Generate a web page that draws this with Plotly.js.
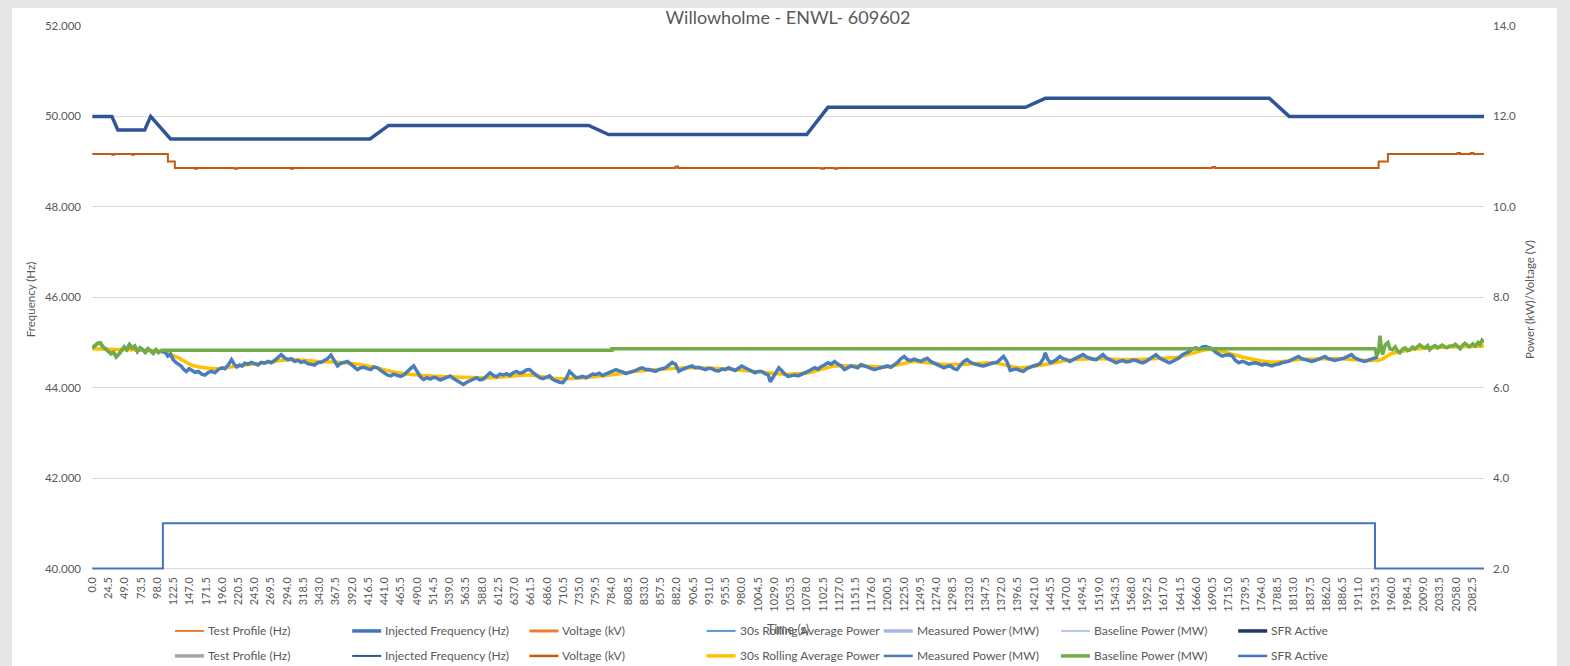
<!DOCTYPE html>
<html>
<head>
<meta charset="utf-8">
<script src="https://cdn.plot.ly/plotly-3.0.1.min.js"></script>
<style>
  html, body { margin: 0; padding: 0; background: #e7e6e6; }
  #frame { position: absolute; left: 12px; top: 8px; width: 1545px; height: 658px; background: #ffffff; }
  #chart { position: absolute; left: 0; top: 0; width: 1570px; height: 666px; }
</style>
</head>
<body>
<div id="frame"></div>
<div id="chart"></div>
<script>
// ---------------- DATA ----------------
const chartTitle = 'Willowholme - ENWL- 609602';

// Injected frequency (Hz), left axis
const freqTime = [0, 29.5, 38.5, 79, 88, 118, 419, 447, 749, 779, 1078, 1110, 1408, 1438, 1776, 1806, 2100];
const injectedFreq = [50.0, 50.0, 49.7, 49.7, 50.0, 49.5, 49.5, 49.8, 49.8, 49.6, 49.6, 50.2, 50.2, 50.4, 50.4, 50.0, 50.0];

// Voltage (kV), right axis (step)
const voltTime = [0, 30, 33, 60, 63, 114, 124.5, 155, 158, 215, 219, 300, 303, 880, 884, 1100, 1104, 1120, 1124, 1690, 1694, 1941, 1955, 2060, 2064, 2080, 2084, 2100];
const voltage = [11.17, 11.15, 11.17, 11.15, 11.17, 11.0, 10.86, 10.84, 10.86, 10.84, 10.86, 10.84, 10.86, 10.89, 10.86, 10.84, 10.86, 10.84, 10.86, 10.88, 10.86, 11.0, 11.17, 11.19, 11.17, 11.19, 11.17, 11.17];

// Measured power (MW), right axis
const powerTime = [0,4,8,12,16,20,24,28,32,36,40,44,48,52,56,60,64,68,72,76,80,84,88,92,96,100,104,106.5,
110,114,118,122,126,130,134,138,142,146,150,155,160,165,170,175,180,185,190,195,200,205,210,214,218,222,226,230,235,240,245,250,255,260,265,270,275,280,285,290,295,300,
305,310,315,320,325,330,335,340,345,350,355,360,365,370,375,380,385,390,395,400,405,410,415,420,425,430,435,440,445,450,455,460,465,470,475,480,485,490,495,500,
505,510,515,520,525,530,535,540,545,550,555,560,565,570,575,580,585,590,595,600,605,610,615,620,625,630,635,640,645,650,655,660,665,670,675,680,685,690,695,700,
705,710,715,720,725,730,735,740,745,750,755,760,765,770,775,780,785,790,795,800,805,810,815,820,825,830,835,840,845,850,855,860,865,870,875,880,885,890,895,900,
905,910,915,920,925,930,935,940,945,950,955,960,965,970,975,980,985,990,995,1000,1005,1010,1015,1020,1023,1027,1031,1036,1040,1045,1050,1055,1060,1065,1070,1075,1080,1085,1090,1095,1100,
1105,1110,1115,1120,1125,1130,1135,1140,1145,1150,1155,1160,1165,1170,1175,1180,1185,1190,1195,1200,1205,1210,1215,1220,1225,1230,1235,1240,1245,1250,1255,1260,1265,1270,1275,1280,1285,1290,1295,1300,
1305,1310,1315,1320,1325,1330,1335,1340,1345,1350,1355,1360,1365,1370,1375,1380,1385,1390,1395,1400,1405,1410,1415,1420,1425,1430,1435,1438,1442,1446,1450,1455,1460,1465,1470,1475,1480,1485,1490,1495,1500,
1505,1510,1515,1520,1525,1530,1535,1540,1545,1550,1555,1560,1565,1570,1575,1580,1585,1590,1595,1600,1605,1610,1615,1620,1625,1630,1635,1640,1645,1650,1655,1660,1665,1670,1675,1680,1685,1690,1695,1700,
1705,1710,1715,1720,1725,1730,1735,1740,1745,1750,1755,1760,1765,1770,1775,1780,1785,1790,1795,1800,1805,1810,1815,1820,1825,1830,1835,1840,1845,1850,1855,1860,1865,1870,1875,1880,1885,1890,1895,1900,
1905,1910,1915,1920,1925,1930,1935,1940];
const measuredPower = [6.88,6.92,6.98,6.99,6.90,6.86,6.80,6.75,6.78,6.68,6.74,6.82,6.90,6.84,6.95,6.88,6.92,6.80,6.88,6.84,6.78,6.86,6.80,6.76,6.84,6.78,6.82,6.79,
6.78,6.70,6.74,6.62,6.56,6.52,6.48,6.40,6.36,6.42,6.38,6.34,6.36,6.30,6.28,6.34,6.36,6.33,6.40,6.44,6.42,6.50,6.62,6.52,6.46,6.50,6.48,6.54,6.52,6.56,6.53,6.50,6.56,6.54,6.58,6.55,6.60,6.66,6.73,6.66,6.62,6.64,
6.58,6.60,6.56,6.58,6.53,6.52,6.50,6.55,6.56,6.60,6.64,6.72,6.58,6.48,6.54,6.56,6.58,6.52,6.46,6.40,6.44,6.45,6.42,6.40,6.46,6.44,6.38,6.33,6.28,6.26,6.30,6.27,6.25,6.28,6.36,6.42,6.48,6.34,6.24,6.18,
6.22,6.19,6.23,6.21,6.17,6.20,6.24,6.26,6.20,6.16,6.12,6.07,6.12,6.15,6.20,6.22,6.17,6.19,6.26,6.33,6.27,6.24,6.30,6.28,6.31,6.27,6.33,6.36,6.32,6.34,6.39,6.40,6.33,6.28,6.22,6.20,6.24,6.26,6.18,6.14,
6.12,6.11,6.20,6.36,6.28,6.22,6.23,6.25,6.22,6.27,6.30,6.29,6.32,6.27,6.30,6.33,6.36,6.40,6.37,6.35,6.31,6.33,6.37,6.38,6.42,6.44,6.40,6.40,6.38,6.36,6.40,6.42,6.44,6.50,6.56,6.52,6.36,6.40,6.44,6.46,
6.48,6.44,6.45,6.42,6.40,6.43,6.42,6.38,6.37,6.41,6.40,6.44,6.42,6.38,6.43,6.48,6.44,6.40,6.36,6.33,6.36,6.36,6.31,6.28,6.13,6.22,6.32,6.44,6.38,6.30,6.25,6.27,6.28,6.26,6.29,6.31,6.36,6.40,6.44,6.41,6.47,
6.50,6.55,6.52,6.58,6.52,6.48,6.40,6.45,6.48,6.46,6.44,6.51,6.48,6.45,6.42,6.40,6.42,6.44,6.46,6.48,6.45,6.50,6.56,6.64,6.69,6.62,6.60,6.63,6.60,6.58,6.62,6.65,6.58,6.54,6.50,6.46,6.44,6.47,6.48,6.42,
6.40,6.50,6.58,6.62,6.56,6.53,6.50,6.49,6.48,6.51,6.52,6.55,6.56,6.62,6.69,6.58,6.38,6.40,6.41,6.38,6.36,6.42,6.46,6.48,6.50,6.53,6.64,6.77,6.62,6.55,6.58,6.62,6.69,6.64,6.62,6.58,6.62,6.65,6.69,6.73,6.68,
6.65,6.63,6.62,6.68,6.73,6.66,6.62,6.58,6.55,6.58,6.60,6.57,6.58,6.61,6.60,6.57,6.55,6.58,6.62,6.68,6.73,6.66,6.62,6.58,6.55,6.58,6.62,6.66,6.73,6.76,6.80,6.86,6.88,6.85,6.90,6.91,6.88,6.86,6.78,6.73,
6.70,6.72,6.73,6.70,6.60,6.55,6.58,6.56,6.52,6.54,6.55,6.53,6.50,6.52,6.49,6.48,6.51,6.52,6.55,6.56,6.58,6.62,6.66,6.69,6.64,6.62,6.60,6.58,6.60,6.62,6.66,6.69,6.64,6.62,6.60,6.62,6.64,6.66,6.70,6.73,
6.66,6.62,6.60,6.58,6.61,6.64,6.66,6.68];

// 30s rolling average power (MW), right axis
const rollTime = [0, 50, 90, 110, 130, 150, 170, 190, 220, 260, 300, 340, 380, 420, 460, 500, 540, 600, 660, 700, 740, 780, 820, 870, 900, 950, 1000, 1040, 1080, 1120, 1160, 1200, 1240, 1280, 1320, 1360, 1400, 1440, 1480, 1520, 1560, 1600, 1640, 1680, 1700, 1740, 1780, 1820, 1880, 1930, 1945, 1960, 2000, 2050, 2100];
const rollAvg = [6.86, 6.84, 6.82, 6.78, 6.66, 6.50, 6.44, 6.42, 6.48, 6.55, 6.62, 6.58, 6.55, 6.47, 6.33, 6.27, 6.24, 6.22, 6.28, 6.20, 6.22, 6.28, 6.36, 6.42, 6.44, 6.42, 6.36, 6.30, 6.33, 6.48, 6.48, 6.46, 6.58, 6.52, 6.52, 6.55, 6.44, 6.52, 6.62, 6.64, 6.62, 6.64, 6.68, 6.84, 6.82, 6.66, 6.56, 6.62, 6.64, 6.60, 6.62, 6.75, 6.86, 6.90, 6.92];

// Baseline power (MW), right axis
const baseTime = [0,4,8,12,16,20,24,28,32,36,40,44,48,52,56,60,64,68,72,76,80,84,88,92,96,100,104,106.5,
784,784,1935.5,1938,1941,1943,1945,1947,1951,1955,1958,1962,1966,1970,1973,1977,1981,1985,1988,1992,1996,2000,2003,2007,2011,2015,2018,2022,2026,2030,2033,2037,2041,2044,2048,2053,2057,2061,2064,2068,2071,2074,2078,2083,2087,2091,2094,2097,2100];
const baselinePower = [6.88,6.92,6.98,6.99,6.90,6.86,6.80,6.75,6.78,6.68,6.74,6.82,6.90,6.84,6.95,6.88,6.92,6.80,6.88,6.84,6.78,6.86,6.80,6.76,6.84,6.78,6.82,6.83,
6.83,6.86,6.86,6.70,6.80,7.15,6.90,6.73,6.95,7.00,6.86,6.84,6.90,6.80,6.77,6.85,6.88,6.82,6.84,6.90,6.86,6.92,6.95,6.90,6.88,6.93,6.84,6.90,6.93,6.88,6.90,6.94,6.90,6.88,6.92,6.92,6.96,6.90,6.86,6.94,6.98,6.95,6.90,6.97,6.92,7.00,6.95,7.05,7.00];

// SFR Active, right axis (step)
const sfrTime = [0, 106.5, 1935.5, 2100];
const sfrActive = [2, 3, 2, 2];

// Axis ticks
const xTickVals = Array.from({length: 86}, (_, i) => i * 24.5);
const xTickText = xTickVals.map(v => v.toFixed(1));

// Legend entries (two rows, as in the reference)
const legendNames = ['Test Profile (Hz)', 'Injected Frequency (Hz)', 'Voltage (kV)', '30s Rolling Average Power', 'Measured Power (MW)', 'Baseline Power (MW)', 'SFR Active'];
const legendColorsRow1 = ['#ED7D31', '#4472C4', '#ED7D31', '#5B9BD5', '#A4B9E2', '#B4C7E7', '#203864'];
const legendWidthsRow1 = [2, 3.5, 3, 2, 3.5, 2, 3.5];
const legendColorsRow2 = ['#A5A5A5', '#2F5597', '#C55A11', '#FFC000', '#4A7EBB', '#70AD47', '#4472C4'];
const legendWidthsRow2 = [3.5, 2, 2.5, 3.5, 2.5, 3.5, 2.5];

// ---------------- LAYOUT ----------------
const FONT = 'Lato, Carlito, Calibri, "Open Sans", sans-serif';
const TXT = '#595959';
const M = {l: 92, r: 86, t: 26, b: 92.5};
const PW = 1570 - M.l - M.r, PH = 666 - M.t - M.b;
const px2x = p => (p - M.l) / PW;
const px2y = p => (666 - M.b - p) / PH;

const traces = [
  {name: 'Test Profile (Hz)', x: [], y: [], type: 'scatter', mode: 'lines', line: {color: '#A5A5A5', width: 3}, yaxis: 'y'},
  {name: 'Injected Frequency (Hz)', x: freqTime, y: injectedFreq, type: 'scatter', mode: 'lines', line: {color: '#2F5597', width: 3.5}, yaxis: 'y'},
  {name: 'Voltage (kV)', x: voltTime, y: voltage, type: 'scatter', mode: 'lines', line: {color: '#C55A11', width: 2, shape: 'hv'}, yaxis: 'y2'},
  {name: '30s Rolling Average Power', x: rollTime, y: rollAvg, type: 'scatter', mode: 'lines', line: {color: '#FFC000', width: 3.5, shape: 'spline', smoothing: 0.6}, yaxis: 'y2'},
  {name: 'Measured Power (MW)', x: powerTime, y: measuredPower, type: 'scatter', mode: 'lines', line: {color: '#4A7EBB', width: 3.5}, yaxis: 'y2'},
  {name: 'Baseline Power (MW)', x: baseTime, y: baselinePower, type: 'scatter', mode: 'lines', line: {color: '#70AD47', width: 3.5}, yaxis: 'y2'},
  {name: 'SFR Active', x: sfrTime, y: sfrActive, type: 'scatter', mode: 'lines', line: {color: '#4472C4', width: 2, shape: 'hv'}, yaxis: 'y2'}
];
traces.forEach(t => t.showlegend = false);

const shapes = [];
const annotations = [];
const rowsY = [631.5, 656.5];
[[legendColorsRow1, legendWidthsRow1], [legendColorsRow2, legendWidthsRow2]].forEach(([cols, wids], r) => {
  legendNames.forEach((name, i) => {
    const x0 = 175 + i * 177.2;
    shapes.push({type: 'line', xref: 'paper', yref: 'paper', x0: px2x(x0), x1: px2x(x0 + 29), y0: px2y(rowsY[r]), y1: px2y(rowsY[r]), line: {color: cols[i], width: wids[i]}});
    annotations.push({xref: 'paper', yref: 'paper', x: px2x(x0 + 31), y: px2y(rowsY[r]), xanchor: 'left', yanchor: 'middle', text: name, showarrow: false, font: {family: FONT, size: 12, color: TXT}});
  });
});

const layout = {
  width: 1570, height: 666,
  margin: M,
  paper_bgcolor: 'rgba(0,0,0,0)',
  plot_bgcolor: 'rgba(0,0,0,0)',
  font: {family: FONT, size: 11, color: TXT},
  showlegend: false,
  title: {text: chartTitle, x: 0.5, xref: 'paper', y: 1 - 18 / 666, yref: 'container', xanchor: 'center', yanchor: 'middle', font: {family: FONT, size: 18, color: TXT}},
  xaxis: {
    range: [-0.5, 2100], tickmode: 'array', tickvals: xTickVals, ticktext: xTickText, tickangle: -90,
    showgrid: false, zeroline: false, showline: false, ticks: '', ticklabelstandoff: 1,
    tickfont: {family: FONT, size: 11, color: TXT},
    title: {text: 'Time (s)', standoff: 14, font: {family: FONT, size: 12.5, color: TXT}}
  },
  yaxis: {
    range: [39.9, 52], tick0: 40, dtick: 2, tickformat: '.3f',
    showgrid: true, gridcolor: '#D9D9D9', gridwidth: 1, zeroline: false, showline: false, ticks: '', ticklabelstandoff: 10,
    tickfont: {family: FONT, size: 11.5, color: TXT},
    title: {text: 'Frequency (Hz)', standoff: 6, font: {family: FONT, size: 11.5, color: TXT}}
  },
  yaxis2: {
    range: [1.9, 14], tick0: 2, dtick: 2, tickformat: '.1f', overlaying: 'y', side: 'right',
    showgrid: false, zeroline: false, showline: false, ticks: '', ticklabelstandoff: 8,
    tickfont: {family: FONT, size: 11.5, color: TXT},
    title: {text: 'Power (kW)/Voltage (V)', standoff: 10, font: {family: FONT, size: 11.5, color: TXT}}
  },
  shapes: shapes,
  annotations: annotations
};

Plotly.newPlot('chart', traces, layout, {staticPlot: true, displayModeBar: false});
</script>
</body>
</html>
